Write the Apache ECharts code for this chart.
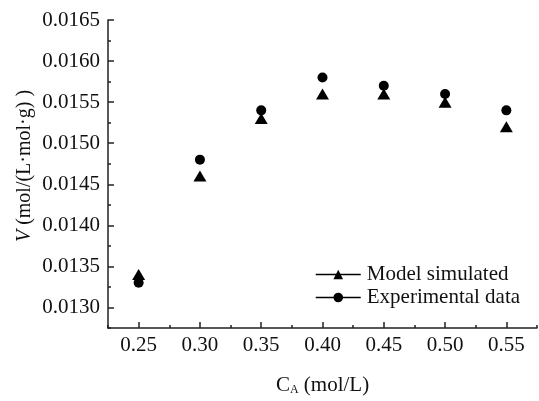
<!DOCTYPE html>
<html>
<head>
<meta charset="utf-8">
<script src="https://cdn.jsdelivr.net/npm/echarts@6/dist/echarts.min.js"></script>
<style>html,body{margin:0;padding:0;background:#fff}#c{width:539px;height:401px}</style>
</head>
<body>
<div id="c"></div>
<script>
var concentrations = [0.25, 0.30, 0.35, 0.40, 0.45, 0.50, 0.55];
var modelSimulated = [0.0134, 0.0146, 0.0153, 0.0156, 0.0156, 0.0155, 0.0152];
var experimentalData = [0.0133, 0.0148, 0.0154, 0.0158, 0.0157, 0.0156, 0.0154];
var xTickValues = [0.25, 0.30, 0.35, 0.40, 0.45, 0.50, 0.55];
var xMinorTickValues = [0.225, 0.275, 0.325, 0.375, 0.425, 0.475, 0.525, 0.575];
var yTickValues = [0.0130, 0.0135, 0.0140, 0.0145, 0.0150, 0.0155, 0.0160, 0.0165];
var yMinorTickValues = [0.01275, 0.01325, 0.01375, 0.01425, 0.01475, 0.01525, 0.01575, 0.01625];

var FONT = "'Liberation Serif', 'Times New Roman', serif";
var AX = '#222';
var FS = 21;

function pairs(xs, ys) { return xs.map(function (x, i) { return [x, ys[i]]; }); }

var chart = echarts.init(document.getElementById('c'));
chart.setOption({
  animation: false,
  backgroundColor: '#fff',
  textStyle: { fontFamily: FONT, color: '#111' },
  grid: { left: 108, right: 2, top: 20, bottom: 69, containLabel: false },
  legend: {
    orient: 'vertical',
    left: 310,
    top: 259,
    itemWidth: 45,
    itemHeight: 12,
    itemGap: 2,
    textStyle: { fontFamily: FONT, fontSize: FS, lineHeight: 18, color: '#111', padding: [0, 0, 0, 1] },
    lineStyle: { color: '#000', width: 1.5, opacity: 1, type: 'solid' },
    data: ['Model simulated', 'Experimental data']
  },
  xAxis: [{
    type: 'value',
    min: 0.225, max: 0.575,
    axisLine: { show: true, onZero: false, lineStyle: { color: AX, width: 1.5 } },
    axisTick: { show: true, inside: true, length: 6, customValues: xTickValues, lineStyle: { color: AX, width: 1.5 } },
    axisLabel: { customValues: xTickValues, margin: 7, fontFamily: FONT, fontSize: FS, color: '#111',
      formatter: function (v) { return v.toFixed(2); } },
    splitLine: { show: false },
    name: '{a|C}{s|A}{a| (mol/L)}',
    nameLocation: 'middle',
    nameGap: 46,
    nameMoveOverlap: false,
    nameTextStyle: { rich: {
      a: { fontFamily: FONT, fontSize: FS, color: '#111' },
      s: { fontFamily: FONT, fontSize: 12, color: '#111', verticalAlign: 'bottom', padding: [10, 0, 0, 0] }
    } }
  }, {
    type: 'value',
    min: 0.225, max: 0.575,
    position: 'bottom',
    axisLine: { show: false, onZero: false },
    axisTick: { show: true, inside: true, length: 3, customValues: xMinorTickValues, lineStyle: { color: AX, width: 1.5 } },
    axisLabel: { show: false },
    splitLine: { show: false }
  }],
  yAxis: [{
    type: 'value',
    min: 0.01275, max: 0.0165,
    axisLine: { show: true, onZero: false, lineStyle: { color: AX, width: 1.5 } },
    axisTick: { show: true, inside: true, length: 6, customValues: yTickValues, lineStyle: { color: AX, width: 1.5 } },
    axisLabel: { customValues: yTickValues, margin: 8, fontFamily: FONT, fontSize: FS, color: '#111',
      formatter: function (v) { return v.toFixed(4); } },
    splitLine: { show: false },
    name: '{i|V}{a| (mol/(L·mol·g) )}',
    nameLocation: 'middle',
    nameGap: 73,
    nameMoveOverlap: false,
    nameTextStyle: { padding: [0, 0, 0, 16], rich: {
      i: { fontFamily: FONT, fontSize: 20, fontStyle: 'italic', color: '#111' },
      a: { fontFamily: FONT, fontSize: 20, color: '#111' }
    } }
  }, {
    type: 'value',
    min: 0.01275, max: 0.0165,
    position: 'left',
    axisLine: { show: false, onZero: false },
    axisTick: { show: true, inside: true, length: 3, customValues: yMinorTickValues, lineStyle: { color: AX, width: 1.5 } },
    axisLabel: { show: false },
    splitLine: { show: false }
  }],
  series: [{
    name: 'Model simulated',
    type: 'line',
    data: pairs(concentrations, modelSimulated),
    symbol: 'triangle',
    symbolSize: [13, 11],
    showAllSymbol: true,
    lineStyle: { opacity: 0, width: 0 },
    itemStyle: { color: '#000' },
    emphasis: { disabled: true },
    z: 3
  }, {
    name: 'Experimental data',
    type: 'line',
    data: pairs(concentrations, experimentalData),
    symbol: 'circle',
    symbolSize: 10,
    showAllSymbol: true,
    lineStyle: { opacity: 0, width: 0 },
    itemStyle: { color: '#000' },
    emphasis: { disabled: true },
    z: 2
  }]
});
</script>
</body>
</html>
